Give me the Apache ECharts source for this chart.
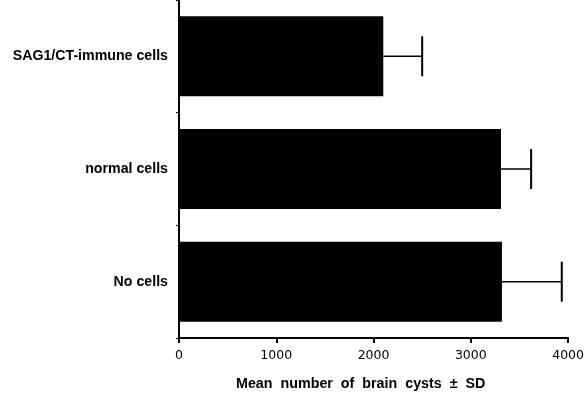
<!DOCTYPE html>
<html><head><meta charset="utf-8">
<script src="https://cdn.jsdelivr.net/npm/echarts@6/dist/echarts.min.js"></script>
<style>html,body{margin:0;padding:0;background:#fff}#c{width:587px;height:394px}</style>
</head><body><div id="c"></div>
<script>
const categories = ["SAG1/CT-immune cells", "normal cells", "No cells"];
const means = [2100, 3310, 3320];
const sds = [400, 310, 615];
const xTicks = [0, 1000, 2000, 3000, 4000];
const xTitle = "Mean  number  of  brain  cysts  \u00b1  SD";

const chart = echarts.init(document.getElementById('c'));
chart.setOption({
  animation: false,
  grid: {left: 179, right: 18, top: -1, bottom: 56},
  title: {text: xTitle, left: 231, top: 372,
    textStyle: {fontFamily: 'Liberation Sans', fontWeight: 'bold', fontSize: 14.3, color: '#000'}},
  xAxis: {type: 'value', min: xTicks[0], max: xTicks[xTicks.length-1], interval: 1000,
    splitLine: {show: false},
    axisLine: {show: true, lineStyle: {color: '#000', width: 2}},
    axisTick: {show: true, length: 5, lineStyle: {color: '#000', width: 2}},
    axisLabel: {margin: 11, fontFamily: 'DejaVu Sans', fontSize: 12.5, color: '#000',
      formatter: v => String(v)}},
  yAxis: {type: 'category', data: categories, inverse: true,
    axisLine: {show: true, lineStyle: {color: '#000', width: 2}},
    axisTick: {show: true, length: 3, lineStyle: {color: '#000', width: 1}},
    axisLabel: {margin: 11, fontFamily: 'Liberation Sans', fontWeight: 'bold', fontSize: 14.2, color: '#000'}},
  series: [
    {type: 'bar', data: means, barWidth: 80, itemStyle: {color: '#000'}},
    {type: 'custom', data: categories.map((c, i) => [means[i], i, means[i] + sds[i]]),
      encode: {x: [0, 2], y: 1},
      renderItem: function (params, api) {
        const p0 = api.coord([api.value(0), api.value(1)]);
        const p1 = api.coord([api.value(2), api.value(1)]);
        const h = 20;
        return {type: 'group', children: [
          {type: 'line', shape: {x1: p0[0], y1: p0[1], x2: p1[0], y2: p1[1]}, style: {stroke: '#000', lineWidth: 1.5}},
          {type: 'line', shape: {x1: p1[0], y1: p1[1] - h, x2: p1[0], y2: p1[1] + h}, style: {stroke: '#000', lineWidth: 2}}
        ]};
      }, z: 3}
  ]
});
</script></body></html>
